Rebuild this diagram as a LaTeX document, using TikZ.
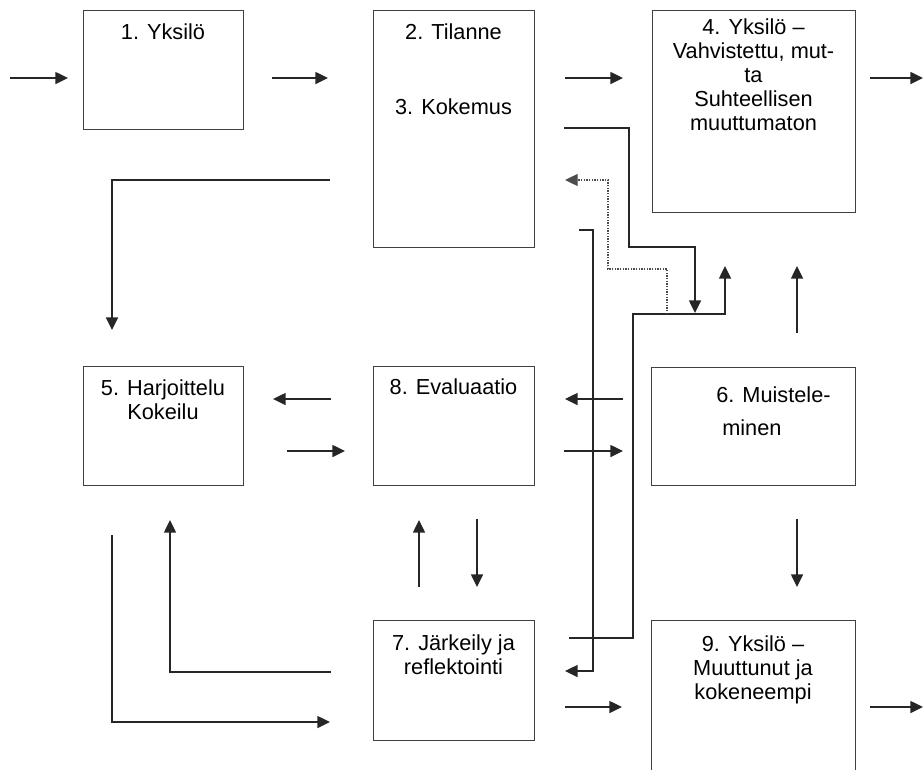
\documentclass[tikz,border=0pt]{standalone}
\usepackage{fontspec}
\setmainfont{Liberation Sans}
\usetikzlibrary{arrows.meta}
\begin{document}
\begin{tikzpicture}[x=0.75pt,y=-0.75pt,
  box/.style={draw=black!75, line width=1pt, rectangle, inner sep=0pt, anchor=north west},
  lbl/.style={font=\fontsize{16.3}{18}\selectfont, inner sep=0pt, anchor=base, align=center},
  tip/.style={-{Triangle[length=9.5pt,width=9pt]}},
  conn/.style={line width=1.1pt, black!85, tip},
  dotlink/.style={line width=0.9pt, black!70, dash pattern=on 1.1pt off 0.9pt, tip}]

\clip (0,0) rectangle (923,769);

% ---- boxes ----
\node[box, minimum width=120pt,    minimum height=89.25pt] (b1) at (83,10) {};
\node[box, minimum width=120.75pt, minimum height=177.75pt] (b2) at (373,10) {};
\node[box, minimum width=152.25pt, minimum height=151.5pt] (b4) at (652,10) {};
\node[box, minimum width=120pt,    minimum height=89.25pt] (b5) at (83,366) {};
\node[box, minimum width=120.75pt, minimum height=89.25pt] (b8) at (373,366) {};
\node[box, minimum width=153pt,    minimum height=88.5pt]  (b6) at (651,367) {};
\node[box, minimum width=120.75pt, minimum height=90pt]    (b7) at (373,620) {};
\node[box, minimum width=153pt,    minimum height=127.5pt] (b9) at (651,620) {};

% ---- labels (base = baseline of the last line) ----
\node[lbl] (t1) at (163,39) {1. Yksilö};
\node[lbl] (t2) at (453.5,39) {2. Tilanne};
\node[lbl] (t3) at (453.5,114) {3. Kokemus};
\node[lbl] (t4) at (753.5,130) {4. Yksilö –\\Vahvistettu, mut-\\ta\\Suhteellisen\\muuttumaton};
\node[lbl] (t5) at (163,419) {5. Harjoittelu\\Kokeilu};
\node[lbl] (t8) at (453.5,394) {8. Evaluaatio};
\node[lbl, anchor=base west] (t6a) at (716,402) {6. Muistele-};
\node[lbl, anchor=base west] (t6b) at (722,435) {minen};
\node[lbl] (t7) at (453.5,674) {7. Järkeily ja\\reflektointi};
\node[lbl] (t9) at (753,699) {9. Yksilö –\\Muuttunut ja\\kokeneempi};

% ---- connector end points ----
\coordinate (inA) at (10,78);   \coordinate (inB) at (68,78);
\coordinate (p12a) at (272,78); \coordinate (p12b) at (328,78);
\coordinate (p24a) at (565,78); \coordinate (p24b) at (623,78);
\coordinate (outA) at (870,78); \coordinate (outB) at (923,78);
\coordinate (p25a) at (330,180); \coordinate (p25k) at (112,180); \coordinate (p25b) at (112,330);
\coordinate (p85a) at (331,399); \coordinate (p85b) at (273,399);
\coordinate (p58a) at (287,451); \coordinate (p58b) at (345,451);
\coordinate (p68a) at (623,399); \coordinate (p68b) at (565,399);
\coordinate (p86a) at (564,451); \coordinate (p86b) at (623,451);
\coordinate (p64a) at (797,333); \coordinate (p64b) at (797,266);
\coordinate (p69a) at (797,519); \coordinate (p69b) at (797,587);
\coordinate (p78a) at (419,587); \coordinate (p78b) at (419,520);
\coordinate (p87a) at (477,519); \coordinate (p87b) at (477,587);
\coordinate (p75a) at (331,672); \coordinate (p75k) at (170,672); \coordinate (p75b) at (170,520);
\coordinate (p57a) at (112,535); \coordinate (p57k) at (112,722); \coordinate (p57b) at (330,722);
\coordinate (p79a) at (565,707); \coordinate (p79b) at (622,707);
\coordinate (out2A) at (870,707); \coordinate (out2B) at (923,707);
% routed links in the middle column
\coordinate (r1a) at (564,128); \coordinate (r1b) at (629,128); \coordinate (r1c) at (629,247);
\coordinate (r1d) at (695,247); \coordinate (r1e) at (695,313);
\coordinate (r2a) at (569,638); \coordinate (r2b) at (633,638); \coordinate (r2c) at (633,314);
\coordinate (r2d) at (725,314); \coordinate (r2e) at (725,266);
\coordinate (r3a) at (667,314); \coordinate (r3b) at (667,269); \coordinate (r3c) at (608,269);
\coordinate (r3d) at (608,180); \coordinate (r3e) at (565,180);
\coordinate (r4a) at (579,230); \coordinate (r4b) at (593,230); \coordinate (r4c) at (593,671);
\coordinate (r4d) at (565,671);

% ---- connectors ----
\draw[conn] (inA) -- (inB);
\draw[conn] (p12a) -- (p12b);
\draw[conn] (p24a) -- (p24b);
\draw[conn] (outA) -- (outB);
\draw[conn] (p25a) -- (p25k) -- (p25b);
\draw[conn] (p85a) -- (p85b);
\draw[conn] (p58a) -- (p58b);
\draw[conn] (p68a) -- (p68b);
\draw[conn] (p86a) -- (p86b);
\draw[conn] (p64a) -- (p64b);
\draw[conn] (p69a) -- (p69b);
\draw[conn] (p78a) -- (p78b);
\draw[conn] (p87a) -- (p87b);
\draw[conn] (p75a) -- (p75k) -- (p75b);
\draw[conn] (p57a) -- (p57k) -- (p57b);
\draw[conn] (p79a) -- (p79b);
\draw[conn] (out2A) -- (out2B);
\draw[conn] (r1a) -- (r1b) -- (r1c) -- (r1d) -- (r1e);
\draw[conn] (r2a) -- (r2b) -- (r2c) -- (r2d) -- (r2e);
\draw[dotlink] (r3a) -- (r3b) -- (r3c) -- (r3d) -- (r3e);
\draw[conn] (r4a) -- (r4b) -- (r4c) -- (r4d);
\end{tikzpicture}
\end{document}
